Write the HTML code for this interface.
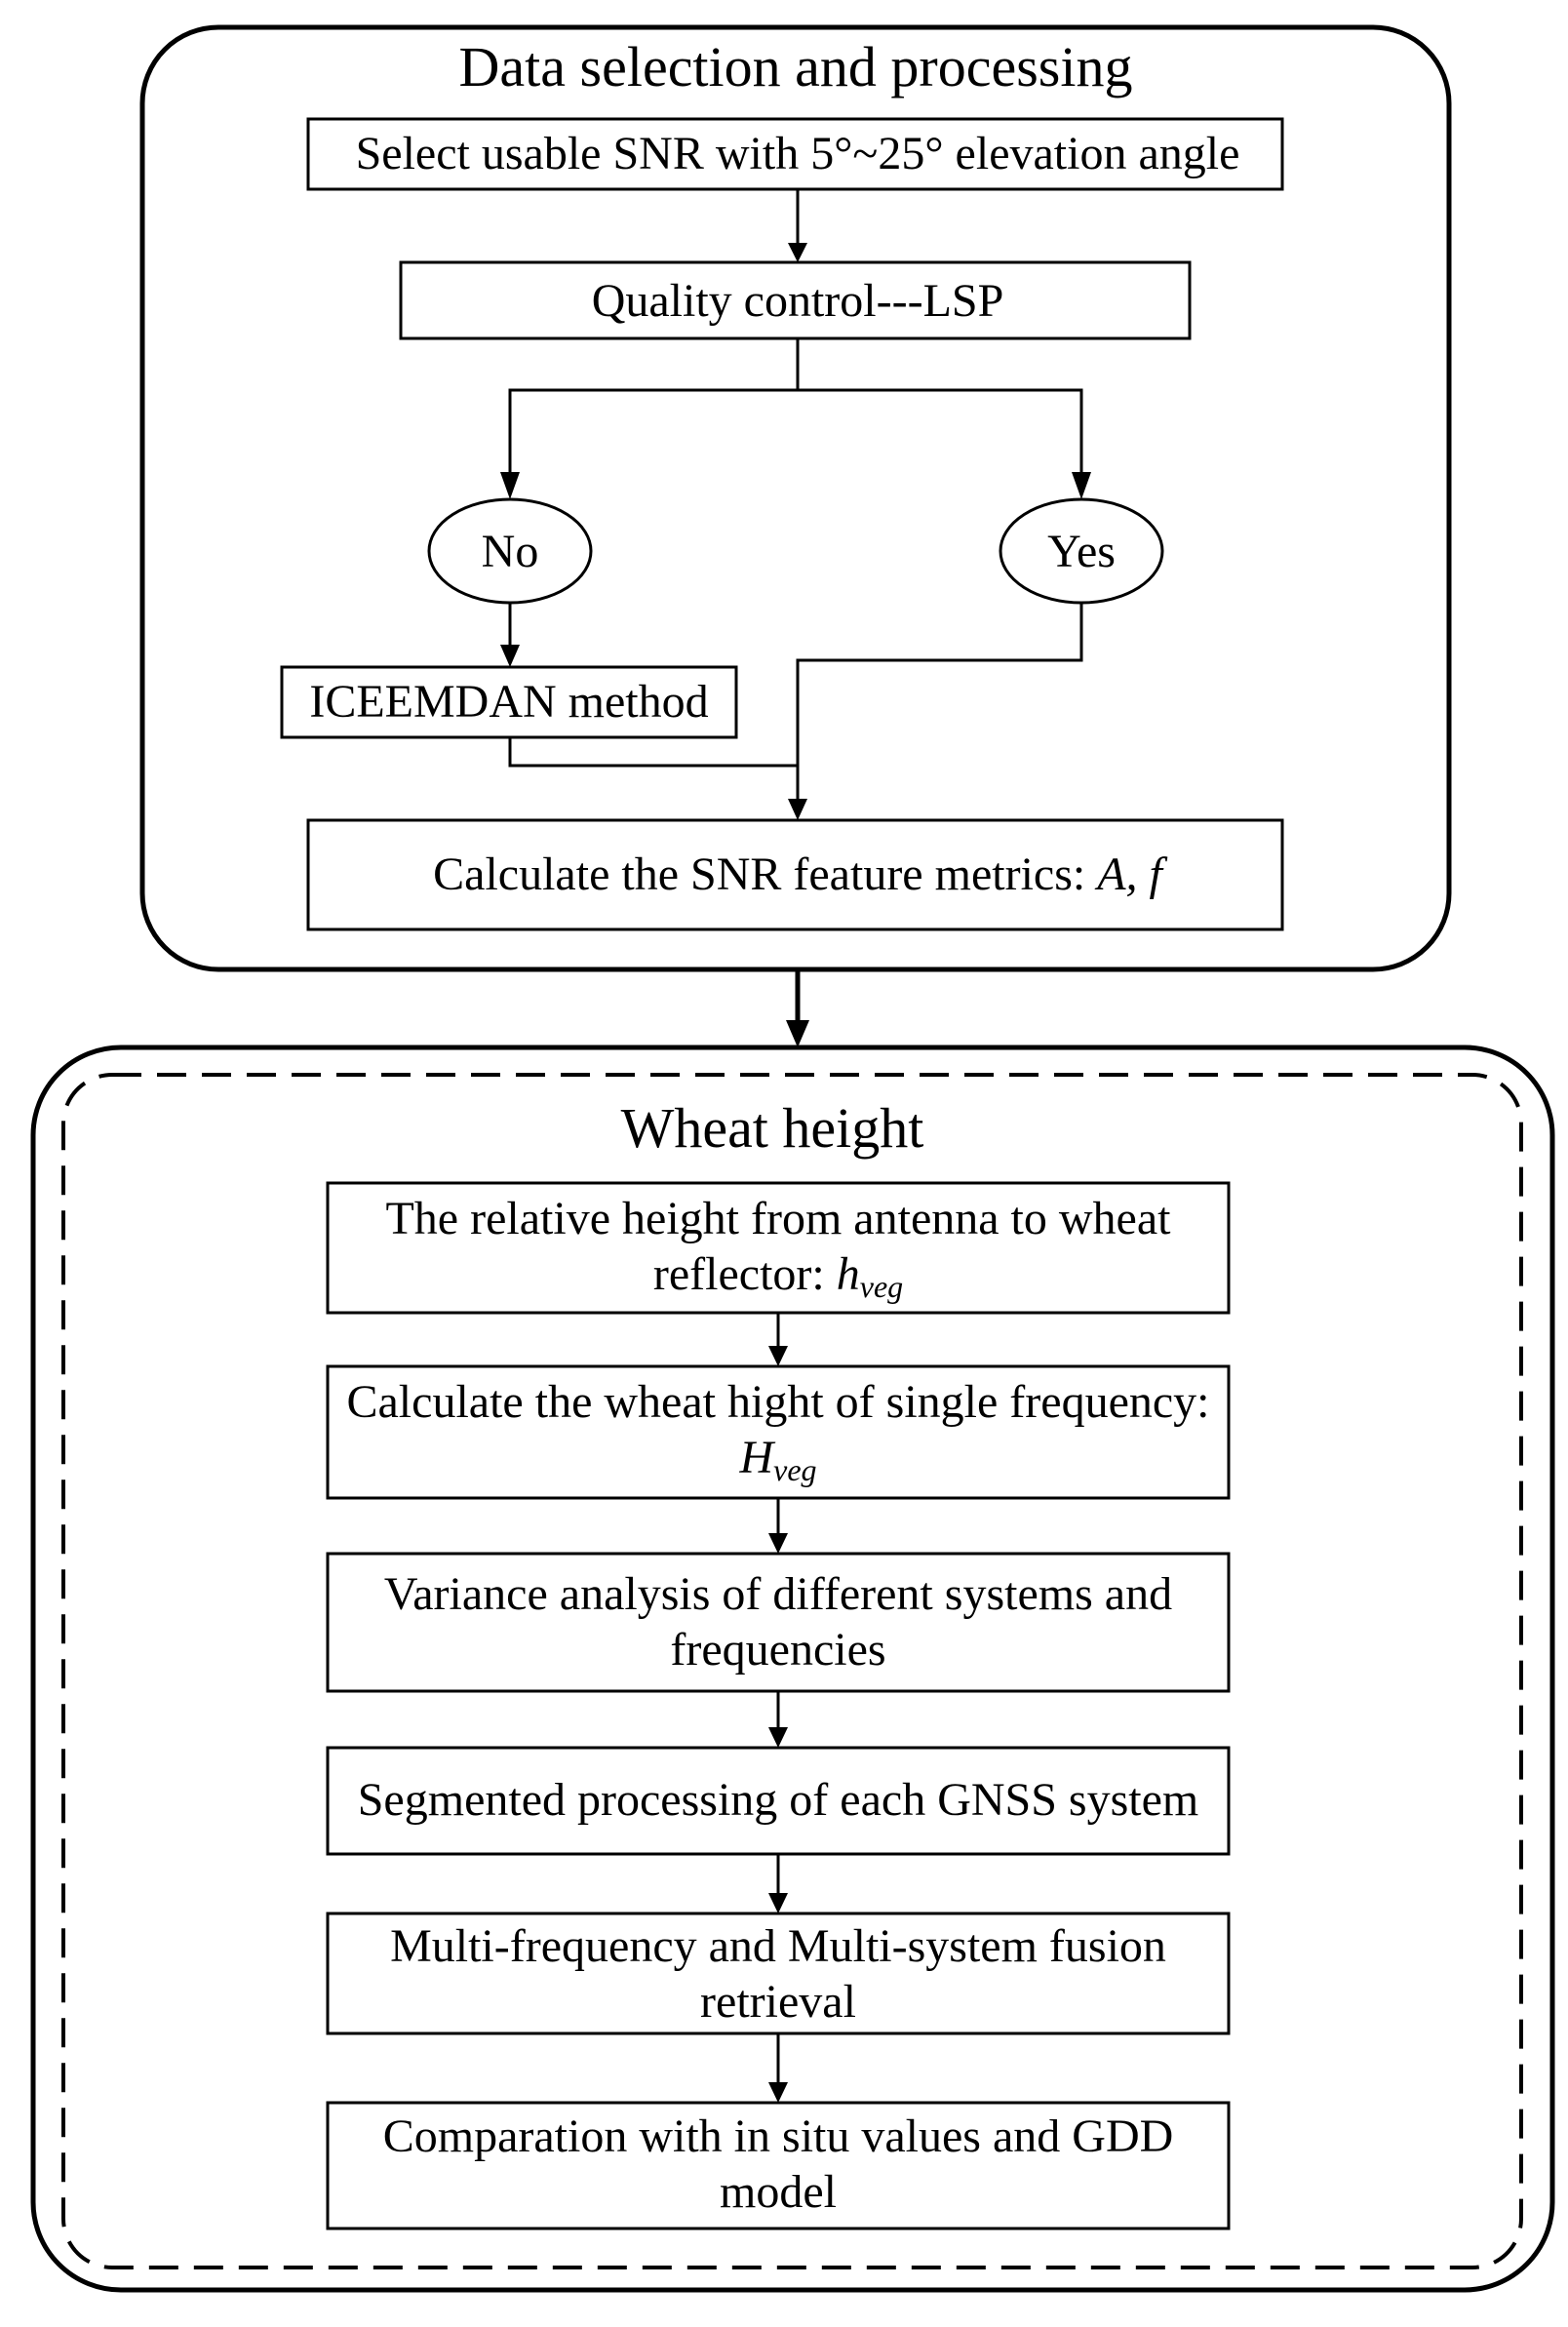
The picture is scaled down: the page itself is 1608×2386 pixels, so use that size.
<!DOCTYPE html>
<html><head><meta charset="utf-8"><style>
html,body{margin:0;padding:0;background:#fff;}
svg{display:block;}
text{font-family:"Liberation Serif",serif;fill:#000;}
</style></head><body>
<svg width="1608" height="2386" viewBox="0 0 1608 2386" xmlns="http://www.w3.org/2000/svg">
<g fill="none" stroke="#000">
<rect x="146" y="28" width="1340" height="966" rx="78" stroke-width="5"/>
<rect x="316" y="122" width="999" height="72" stroke-width="3"/>
<rect x="411" y="269" width="809" height="78" stroke-width="3"/>
<ellipse cx="523" cy="565" rx="83" ry="53" stroke-width="3"/>
<ellipse cx="1109" cy="565" rx="83" ry="53" stroke-width="3"/>
<rect x="289" y="684" width="466" height="72" stroke-width="3"/>
<rect x="316" y="841" width="999" height="112" stroke-width="3"/>
<g stroke-width="3">
<path d="M818 194V251"/>
<path d="M818 347V400H523V486"/>
<path d="M818 400H1109V486"/>
<path d="M523 618V663"/>
<path d="M1109 618V677H818V822"/>
<path d="M523 756V785H818"/>
</g>
<path d="M818 994V1051" stroke-width="5"/>
<rect x="34" y="1074" width="1558" height="1274" rx="90" stroke-width="5"/>
<rect x="65" y="1102" width="1495" height="1223" rx="50" stroke-width="4" stroke-dasharray="30 16"/>
<g stroke-width="3">
<rect x="336" y="1213" width="924" height="133"/>
<rect x="336" y="1401" width="924" height="135"/>
<rect x="336" y="1593" width="924" height="141"/>
<rect x="336" y="1792" width="924" height="109"/>
<rect x="336" y="1962" width="924" height="123"/>
<rect x="336" y="2156" width="924" height="129"/>
<path d="M798 1346V1382M798 1536V1574M798 1734V1773M798 1901V1943M798 2085V2137"/>
</g>
</g>
<g fill="#000">
<path d="M808 249L818 269L828 249Z"/>
<path d="M513 484L523 512L533 484Z"/>
<path d="M1099 484L1109 512L1119 484Z"/>
<path d="M513 661L523 684L533 661Z"/>
<path d="M808 819L818 841L828 819Z"/>
<path d="M806 1046L818 1074L830 1046Z"/>
<path d="M788 1380L798 1401L808 1380Z"/>
<path d="M788 1572L798 1593L808 1572Z"/>
<path d="M788 1771L798 1792L808 1771Z"/>
<path d="M788 1941L798 1962L808 1941Z"/>
<path d="M788 2135L798 2156L808 2135Z"/>
</g>
<g text-anchor="middle" font-size="58">
<text x="816" y="88">Data selection and processing</text>
<text x="792" y="1176">Wheat height</text>
</g>
<g text-anchor="middle" font-size="48">
<text x="818" y="173">Select usable SNR with 5°~25° elevation angle</text>
<text x="818" y="324">Quality control---LSP</text>
<text x="523" y="581">No</text>
<text x="1109" y="581">Yes</text>
<text x="522" y="735">ICEEMDAN method</text>
<text x="818" y="912">Calculate the SNR feature metrics: <tspan font-style="italic">A, f</tspan></text>
<text x="798" y="1265">The relative height from antenna to wheat</text>
<text x="798" y="1322">reflector: <tspan font-style="italic">h<tspan font-size="32" dy="8">veg</tspan></tspan></text>
<text x="798" y="1453">Calculate the wheat hight of single frequency:</text>
<text x="798" y="1510" font-style="italic">H<tspan font-size="32" dy="8">veg</tspan></text>
<text x="798" y="1650">Variance analysis of different systems and</text>
<text x="798" y="1707">frequencies</text>
<text x="798" y="1861">Segmented processing of each GNSS system</text>
<text x="798" y="2011">Multi-frequency and Multi-system fusion</text>
<text x="798" y="2068">retrieval</text>
<text x="798" y="2206">Comparation with in situ values and GDD</text>
<text x="798" y="2263">model</text>
</g>
</svg>
</body></html>
